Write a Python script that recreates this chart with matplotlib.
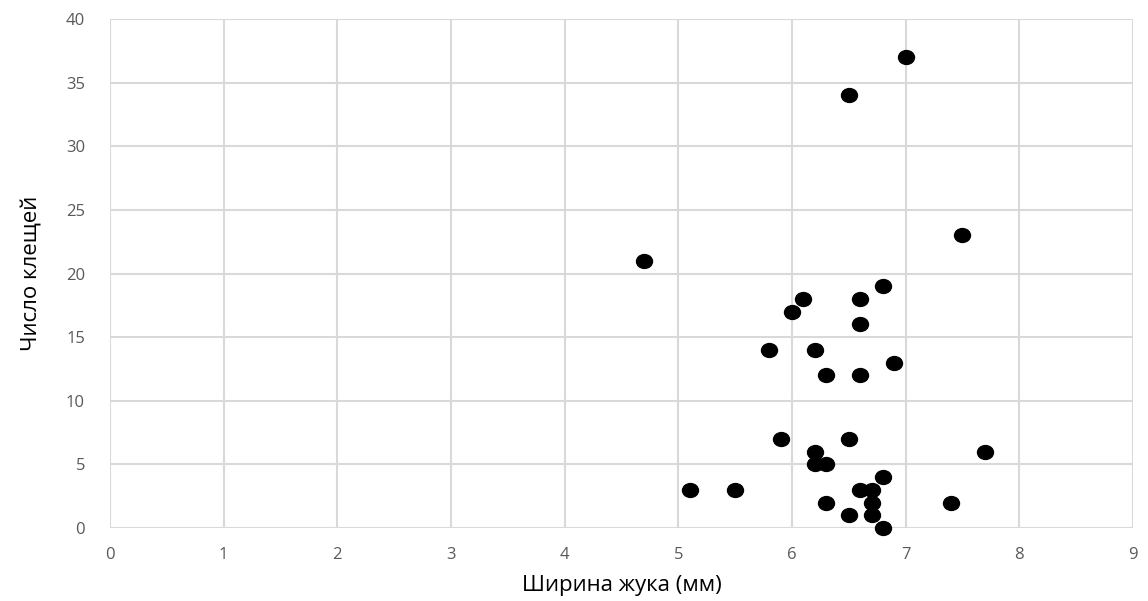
import matplotlib
matplotlib.use("Agg")
import matplotlib.pyplot as plt
from matplotlib.path import Path
from matplotlib.transforms import Affine2D

# Данные: ширина жука (мм) и число клещей
width_mm = [7.0, 6.5, 7.5, 4.7, 6.8, 6.1, 6.6, 6.0, 6.6, 5.8, 6.2, 6.9, 6.3, 6.6,
            5.9, 6.5, 6.2, 7.7, 6.2, 6.3, 6.8, 5.1, 5.5, 6.6, 6.7, 6.3, 6.7, 7.4,
            6.5, 6.7, 6.8]
mites = [37, 34, 23, 21, 19, 18, 18, 17, 16, 14, 14, 13, 12, 12,
         7, 7, 6, 6, 5, 5, 4, 3, 3, 3, 3, 2, 2, 2,
         1, 1, 0]

x_ticks = list(range(0, 10))
y_ticks = list(range(0, 45, 5))

plt.rcParams['font.family'] = ['Open Sans', 'DejaVu Sans']

# слегка вытянутый по горизонтали маркер, как в Excel
ellipse = Path.unit_circle().transformed(Affine2D().scale(1.15, 1.0))

fig = plt.figure(figsize=(11.48, 6.01), dpi=100)
ax = fig.add_axes([110 / 1148, 1 - 528 / 601, (1133 - 110) / 1148, (528 - 19) / 601])

ax.plot(width_mm, mites, linestyle='none', marker=ellipse, color='black',
        markersize=11.5, zorder=3, clip_on=False)

ax.set_xlim(0, 9)
ax.set_ylim(0, 40)
ax.set_xticks(x_ticks)
ax.set_yticks(y_ticks)
ax.grid(True, color='#d9d9d9', linewidth=1.5)
ax.set_axisbelow(True)
for s in ax.spines.values():
    s.set_visible(False)
ax.tick_params(length=0, labelsize=12, colors='#595959')
ax.tick_params(axis='y', pad=18)
ax.tick_params(axis='x', pad=14)

ax.set_xlabel('Ширина жука (мм)', fontsize=16, color='black', labelpad=8)
ax.set_ylabel('Число клещей', fontsize=16, color='black', labelpad=17)

fig.savefig('out.png', dpi=100)
